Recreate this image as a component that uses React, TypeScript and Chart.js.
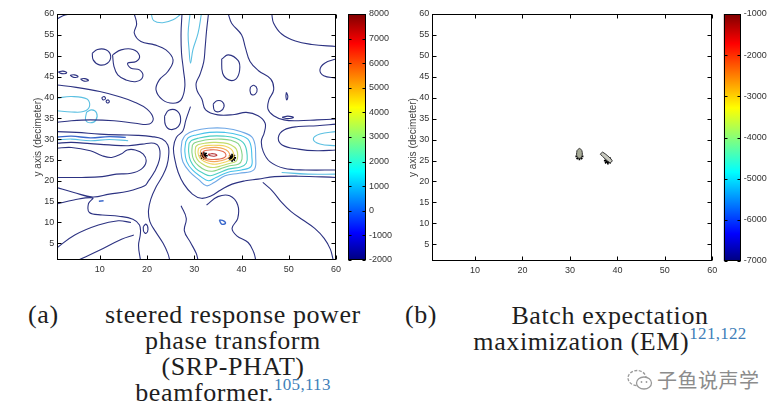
import React, { useEffect, useRef } from 'react';
import { Chart, registerables } from 'chart.js';
Chart.register(...registerables);

type P = [number, number];

// ---------- axes / ticks ----------
const AXIS_MIN = 1;
const AXIS_MAX = 60;
const X_TICKS = [10, 20, 30, 40, 50, 60];
const Y_TICKS = [5, 10, 15, 20, 25, 30, 35, 40, 45, 50, 55, 60];
const Y_TITLE = 'y axis (decimeter)';

const CB_A_RANGE: P = [-2000, 8000];
const CB_A_TICKS = [-2000, -1000, 0, 1000, 2000, 3000, 4000, 5000, 6000, 7000, 8000];
const CB_B_RANGE: P = [-7000, -1000];
const CB_B_TICKS = [-7000, -6000, -5000, -4000, -3000, -2000, -1000];

// ---------- source positions ----------
const SOURCES_A: P[] = [[32, 26], [38, 25.5]];
const SOURCES_B: P[] = [[32, 26], [38, 25]];

// ---------- (a) SRP-PHAT contour lines ----------
const LEVEL_NAVY: P[][] = [
  [[0.8, 58.7], [2.2, 59.6], [3.8, 60]],
  [[8.4, 50.6], [9.5, 51.5], [11.3, 51.4], [12.3, 49.9], [11.6, 48.2], [9.9, 47.8], [8.6, 49.0], [8.4, 50.6]],
  [[12.7, 50.2], [14.5, 51.4], [17.0, 51.5], [18.4, 50.0], [17.7, 48.6], [15.9, 48.2], [16.6, 47.0], [18.4, 46.6], [19.1, 45.0], [17.7, 43.8], [15.5, 44.2], [13.8, 45.4], [13.0, 47.4], [12.7, 50.2]],
  [[1.2, 46.1], [2.2, 46.3], [3.0, 45.9], [2.0, 45.7], [1.2, 46.1]],
  [[3.7, 45.3], [4.6, 45.4], [5.4, 45.0], [4.5, 44.8], [3.7, 45.3]],
  [[5.9, 44.4], [6.8, 44.5], [7.6, 44.1], [6.7, 43.9], [5.9, 44.4]],
  [[0.8, 43.0], [5, 42.4], [10, 41.4], [14, 40.2], [17.5, 38.8], [20, 37.2], [21.3, 35.0], [20.5, 33.6], [17.5, 33.8], [13, 34.4], [8, 34.6], [4, 34.4], [0.8, 34.0]],
  [[10.4, 39.9], [10.9, 40.2], [11.2, 39.7], [10.7, 39.4], [10.4, 39.9]],
  [[11.3, 39.2], [11.8, 39.4], [12.0, 38.9], [11.5, 38.7], [11.3, 39.2]],
  [[17.3, 60], [17.8, 57.6], [17.3, 55.4], [18.7, 53.4], [21.6, 52.6], [24.0, 51.4], [25.5, 49.0], [24.4, 46.2], [22.6, 44.2], [21.9, 41.8], [23.3, 39.4], [25.5, 38.6], [27.2, 39.4], [28.0, 42.6], [27.7, 46.6], [27.3, 50.6], [27.2, 55.4], [27.4, 60]],
  [[23.7, 35.5], [24.6, 36.9], [26.3, 36.8], [27.1, 35.0], [26.6, 33.0], [25.0, 32.3], [23.9, 33.4], [23.7, 35.5]],
  [[33.0, 60], [32.6, 56], [32.3, 52], [32.0, 48.5], [31.2, 45.5], [30.4, 43.4], [30.6, 41.6], [31.6, 39.6], [32.4, 37.0], [35.0, 35.8], [38.5, 35.9], [41.0, 36.4], [43.5, 35.6], [45.0, 33.8], [44.8, 31.5], [44.2, 29.5], [44.6, 27.0], [46.0, 24.6], [49.0, 23.0], [53.5, 22.6], [60, 22.6]],
  [[37.2, 60], [37.9, 57.8], [40.0, 55.0], [40.8, 52.0], [41.8, 48.6], [43.6, 46.4], [46.2, 44.4], [46.8, 41.8], [45.8, 39.4], [45.6, 37.2], [46.8, 35.6], [49, 34.6], [52, 34.4], [56, 34.6], [60, 34.8]],
  [[60, 33.6], [56, 33.2], [52, 33.0], [49, 32.2], [47.8, 30.4], [48.6, 28.6], [52, 27.6], [56, 27.2], [60, 27.4]],
  [[35.8, 49.2], [37.2, 50.2], [39.3, 48.8], [39.6, 46.5], [38.8, 44.4], [37.3, 44.2], [36.0, 45.8], [35.8, 49.2]],
  [[34.0, 38.4], [34.8, 39.2], [35.9, 39.0], [36.3, 37.8], [35.5, 36.7], [34.3, 36.8], [34.0, 38.4]],
  [[41.9, 42.5], [42.6, 42.9], [43.3, 42.0], [42.9, 40.8], [42.1, 40.7], [41.8, 41.6], [41.9, 42.5]],
  [[46.4, 60], [46.8, 57.8], [48.5, 55.2], [51.4, 53.5], [54.9, 52.7], [60, 52.2]],
  [[60, 49.2], [57.6, 48.2], [56.6, 46.6], [57.4, 45.2], [60, 44.6]],
  [[48.6, 35.2], [49.8, 35.5], [51, 35.2], [49.8, 34.9], [48.6, 35.2]],
  [[49.5, 41.2], [49.8, 40.3], [49.6, 39.4], [49.4, 40.3], [49.5, 41.2]],
  [[29.2, 37.8], [28.2, 34.5], [27.6, 32.0], [26.2, 30.4], [25.6, 28.0], [25.9, 25.0], [26.6, 22.0], [27.8, 19.2], [29.6, 16.8], [31.5, 15.8], [33.6, 16.4], [35.6, 17.8], [38.0, 19.2], [40.8, 20.0], [43.5, 20.4], [47, 21.0], [52, 21.1], [60, 20.8]],
  [[0.8, 31.8], [5, 31.6], [10, 31.2], [14, 31.0], [18, 30.9], [21, 30.6], [23.2, 30.0], [24.4, 28.6], [24.6, 26.4], [24.2, 23.6], [23.2, 21.0], [21.9, 18.5], [20.8, 15.6], [20.3, 12.8], [20.6, 10.2], [21.8, 7.8], [23.4, 5.0], [24.4, 2.6], [24.8, 1.0]],
  [[0.8, 29.0], [4, 29.2], [8, 28.9], [12, 28.6], [16, 28.4], [19, 28.8], [21.5, 29.0], [22.6, 27.8], [22.6, 25.0], [21.6, 22.2], [20.2, 19.8], [19.5, 18.8], [16, 17.5], [12, 16.8], [8.5, 16.1], [4.5, 17.2], [0.8, 18.4]],
  [[0.8, 27.8], [4, 28.0], [8, 27.2], [10.5, 26.0], [12.5, 25.6], [14.5, 26.4], [15.8, 27.4], [17.5, 27.4], [19.2, 26.4], [19.8, 24.6], [18.8, 22.8], [16.6, 21.8], [13.5, 21.6], [10.5, 21.0], [6.2, 20.8], [0.8, 20.8]],
  [[0.8, 14.4], [4.5, 15.4], [8.5, 15.9], [7.6, 14.5], [7.8, 12.4], [10.5, 11.8], [14, 11.5], [17.0, 10.8], [18.4, 9.4], [18.6, 7.4], [18.2, 4.5], [18.6, 1.0]],
  [[0.8, 3.8], [4.7, 7.0], [9.7, 9.4], [13.9, 10.4], [16.6, 10.0]],
  [[5.5, 1.0], [9.7, 3.2], [14.6, 6.0], [17.2, 7.0]],
  [[19.2, 9.0], [19.8, 9.6], [20.2, 8.4], [19.8, 7.4], [19.3, 7.8], [19.2, 9.0]],
  [[27.2, 14.0], [28.3, 11.0], [27.9, 8.0], [29.2, 5.2], [30.4, 2.6], [30.8, 1.0]],
  [[32.6, 14.2], [35.0, 16.2], [37.5, 16.4], [39.2, 14.2], [39.2, 11.0], [38.0, 8.6], [39.0, 6.8], [41.4, 5.2], [42.6, 2.8], [43.0, 1.0]],
  [[44.5, 19.6], [46.5, 17.6], [48.5, 14.8], [50.5, 12.6], [53, 10.6], [55.5, 8.6], [57.5, 6.2], [58.8, 3.6], [59.4, 1.0]],
];

const LEVEL_BLUE: P[][] = [
  [[1.0, 30.5], [4, 30.7], [8, 30.3], [12, 30.6], [15.5, 30.4]],
  [[35.3, 10.6], [36.2, 10.4], [36.6, 9.8], [35.8, 9.6], [35.3, 10.6]],
  [[9.8, 15.1], [10.8, 15.2]],
];

const LEVEL_CYAN: P[][] = [
  [[20.9, 60], [21.4, 58.4], [23.3, 57.9], [25.5, 58.6], [27.2, 60]],
  [[29.1, 60], [28.7, 55.4], [28.9, 51.4], [29.2, 48.2], [29.7, 51.4], [30.8, 55.4], [31.5, 60]],
  [[0.8, 39.8], [4, 40.2], [7.3, 39.6], [7.8, 37.8], [6.5, 36.6], [4, 36.5], [0.8, 36.8]],
  [[7.2, 36.5], [8.3, 37.0], [9.3, 36.3], [9.2, 34.6], [8.0, 33.9], [7.0, 34.6], [7.2, 36.5]],
  [[1.0, 29.8], [4, 30.0], [8, 29.6], [12, 29.9], [16, 29.6]],
  [[60, 31.8], [56.6, 31.2], [55.2, 30.0], [56.6, 28.8], [60, 28.4]],
  [[48.5, 22.0], [54, 21.6], [60, 21.6]],
];

// concentric rings around the main peak, outer -> inner
const PEAK_RINGS: P[][] = [
  [[27.4, 29.6], [27.2, 27], [27.6, 24.5], [29, 22.2], [31, 20.2], [32.6, 18.8], [34.2, 19.6], [36.5, 21.2], [39.5, 21.8], [42.6, 22.6], [43.0, 25.5], [42.4, 30.2], [39.8, 31.8], [36.5, 32.6], [33, 32.6], [30, 32.0], [28.2, 31.0], [27.4, 29.6]],
  [[28.2, 29.4], [28.0, 27], [28.4, 24.6], [29.6, 22.6], [31.4, 21.0], [33, 20.0], [34.6, 20.8], [37, 22.0], [40, 22.6], [42.0, 23.4], [42.2, 25.6], [41.6, 29.6], [39.4, 31.0], [36.4, 31.6], [33.2, 31.6], [30.4, 31.0], [28.8, 30.4], [28.2, 29.4]],
  [[28.9, 29.0], [28.8, 27], [29.2, 24.8], [30.3, 23.0], [31.9, 21.8], [33.4, 21.2], [35, 21.8], [37.2, 22.8], [39.8, 23.3], [41.0, 24.2], [41.2, 26.0], [40.6, 28.8], [38.8, 30.2], [36.2, 30.7], [33.3, 30.7], [30.8, 30.2], [29.5, 29.7], [28.9, 29.0]],
  [[29.6, 28.6], [29.5, 26.8], [29.9, 25.0], [30.9, 23.6], [32.3, 22.6], [33.8, 22.3], [35.4, 22.8], [37.5, 23.6], [39.4, 24.0], [40.1, 25.2], [40.0, 27.2], [39.3, 28.9], [37.8, 29.7], [35.6, 30.0], [33.2, 29.9], [31.2, 29.5], [30.1, 29.1], [29.6, 28.6]],
  [[30.3, 28.2], [30.2, 26.7], [30.6, 25.2], [31.5, 24.2], [32.8, 23.4], [34.2, 23.2], [35.8, 23.6], [37.6, 24.2], [38.9, 24.7], [39.2, 26.0], [38.9, 27.6], [37.8, 28.6], [36.2, 29.1], [34.0, 29.2], [32.2, 29.0], [30.9, 28.7], [30.3, 28.2]],
  [[30.9, 27.8], [30.8, 26.6], [31.2, 25.4], [32.1, 24.6], [33.4, 24.1], [34.7, 24.0], [36.2, 24.4], [37.6, 24.9], [38.3, 25.6], [38.3, 26.6], [37.8, 27.6], [36.6, 28.3], [35.0, 28.5], [33.2, 28.5], [31.8, 28.3], [30.9, 27.8]],
  [[31.4, 27.4], [31.3, 26.4], [31.8, 25.4], [32.8, 24.8], [34.2, 24.6], [35.6, 24.8], [36.9, 25.3], [37.5, 26.0], [37.2, 27.0], [36.2, 27.7], [34.6, 28.0], [33.0, 27.9], [31.9, 27.7], [31.4, 27.4]],
  [[31.8, 26.9], [31.9, 26.0], [32.6, 25.3], [33.8, 25.1], [35.2, 25.2], [36.4, 25.6], [36.7, 26.3], [36.1, 27.0], [34.8, 27.4], [33.2, 27.4], [32.2, 27.2], [31.8, 26.9]],
  [[32.9, 26.3], [33.4, 26.0], [34.2, 25.9], [34.8, 26.1], [34.4, 26.4], [33.6, 26.5], [32.9, 26.3]],
];

// ---------- (b) EM contour blobs ----------
const EM_BLOBS: P[][] = [
  [[31.5, 27.4], [32.0, 27.9], [32.5, 27.4], [32.6, 26.4], [32.3, 25.6], [31.7, 25.6], [31.4, 26.4], [31.5, 27.4]],
  [[36.4, 26.5], [36.9, 27.0], [38.9, 25.0], [38.4, 24.5], [36.4, 26.5]],
];

// ---------- captions ----------
const CAPTION_A_TAG = '(a)';
const CAPTION_A_LINES = ['steered response power', 'phase transform', '(SRP-PHAT)', 'beamformer.'];
const CAPTION_A_REF = '105,113';
const CAPTION_B_TAG = '(b)';
const CAPTION_B_LINES = ['Batch expectation', 'maximization (EM)'];
const CAPTION_B_REF = '121,122';
const WATERMARK = '子鱼说声学';

// ---------- styles ----------
const RING_COLORS = ['#6fa8e6', '#47c2ea', '#4ccfc4', '#86d487', '#c3dc6c', '#f1d35e', '#f3a75a', '#e46a4e', '#b8383a'];
const NAVY = '#2c3282';
const BLUE = '#3a68cc';
const CYAN = '#5cc0e2';
const TICK_FONT = { family: "'Liberation Sans', Arial, sans-serif", size: 9 };
const TICK_COLOR = '#333';
const JET: [number, string][] = [[0, '#00007f'], [0.11, '#0000ff'], [0.36, '#00ffff'], [0.62, '#ffff00'], [0.88, '#ff0000'], [1, '#7f0000']];

const toXY = (pts: P[]) => pts.map(([x, y]) => ({ x, y }));

const framePlugin = {
  id: 'frame',
  afterDraw(chart: any, _args: any, opts: any) {
    const { ctx, chartArea: a, scales } = chart;
    ctx.save();
    ctx.strokeStyle = '#000';
    ctx.lineWidth = 1;
    const l = Math.round(a.left) + 0.5, r = Math.round(a.right) - 0.5;
    const t = Math.round(a.top) + 0.5, b = Math.round(a.bottom) - 0.5;
    ctx.strokeRect(l, t, r - l, b - t);
    const len = opts.len || 4;
    ctx.beginPath();
    if (opts.x && scales.x) {
      for (const tk of scales.x.ticks) {
        const px = Math.round(scales.x.getPixelForValue(tk.value)) + 0.5;
        ctx.moveTo(px, b); ctx.lineTo(px, b - len);
        ctx.moveTo(px, t); ctx.lineTo(px, t + len);
      }
    }
    if (opts.y && scales.y) {
      for (const tk of scales.y.ticks) {
        const py = Math.round(scales.y.getPixelForValue(tk.value)) + 0.5;
        ctx.moveTo(l, py); ctx.lineTo(l + len, py);
        ctx.moveTo(r, py); ctx.lineTo(r - len, py);
      }
    }
    ctx.stroke();
    ctx.restore();
  },
};

function lineSet(lines: P[][], color: string, width: number) {
  return lines.map((pts) => ({
    data: toXY(pts),
    showLine: true,
    borderColor: color,
    borderWidth: width,
    pointRadius: 0,
    tension: 0.4,
    fill: false,
  }));
}

function starSet(pts: P[]) {
  return {
    data: toXY(pts),
    showLine: false,
    pointStyle: 'star',
    pointRadius: 4,
    borderColor: '#000',
    backgroundColor: '#000',
    borderWidth: 1.7,
  };
}

function mapOptions(axisWidth: number, padRight: number) {
  return {
    responsive: false,
    animation: false,
    events: [],
    layout: { padding: { left: 28, top: 14, right: padRight, bottom: 0 } },
    plugins: { legend: { display: false }, tooltip: { enabled: false }, frame: { x: true, y: true, len: 4 } },
    scales: {
      x: {
        type: 'linear', min: AXIS_MIN, max: AXIS_MAX,
        afterBuildTicks: (s: any) => { s.ticks = X_TICKS.map((v) => ({ value: v })); },
        afterFit: (s: any) => { s.height = 25; },
        grid: { display: false, drawTicks: false }, border: { display: false },
        ticks: { font: TICK_FONT, color: TICK_COLOR, padding: 4, maxRotation: 0, autoSkip: false, callback: (v: any) => String(v) },
      },
      y: {
        type: 'linear', min: AXIS_MIN, max: AXIS_MAX,
        afterBuildTicks: (s: any) => { s.ticks = Y_TICKS.map((v) => ({ value: v })); },
        afterFit: (s: any) => { s.width = axisWidth; },
        grid: { display: false, drawTicks: false }, border: { display: false },
        title: { display: true, text: Y_TITLE, font: { family: TICK_FONT.family, size: 10 }, color: '#444', padding: { top: 4, bottom: 0 } },
        ticks: { font: TICK_FONT, color: TICK_COLOR, padding: 3, autoSkip: false, callback: (v: any) => String(v) },
      },
    },
  };
}

function colorbar(canvas: HTMLCanvasElement, range: P, ticks: number[], padLeft: number, axisWidth: number, padBottom: number) {
  return new Chart(canvas, {
    type: 'bar',
    data: {
      labels: ['c'],
      datasets: [{
        data: [range] as any,
        backgroundColor: (c: any) => {
          const a = c.chart.chartArea;
          if (!a) return '#0000ff';
          const g = c.chart.ctx.createLinearGradient(0, a.bottom, 0, a.top);
          JET.forEach(([t, col]) => g.addColorStop(t, col));
          return g;
        },
        borderWidth: 0,
        barPercentage: 1,
        categoryPercentage: 1,
      }],
    },
    options: {
      responsive: false,
      animation: false,
      events: [],
      layout: { padding: { left: padLeft, top: 14, right: 0, bottom: padBottom } },
      plugins: { legend: { display: false }, tooltip: { enabled: false }, frame: { x: false, y: true, len: 3 } } as any,
      scales: {
        x: { display: false },
        y: {
          position: 'right', min: range[0], max: range[1],
          afterBuildTicks: (s: any) => { s.ticks = ticks.map((v) => ({ value: v })); },
          afterFit: (s: any) => { s.width = axisWidth; },
          grid: { display: false, drawTicks: false }, border: { display: false },
          ticks: { font: TICK_FONT, color: TICK_COLOR, padding: 3, autoSkip: false, callback: (v: any) => String(v) },
        },
      },
    } as any,
    plugins: [framePlugin],
  });
}

export default function App() {
  const aRef = useRef<HTMLCanvasElement>(null);
  const cbARef = useRef<HTMLCanvasElement>(null);
  const bRef = useRef<HTMLCanvasElement>(null);
  const cbBRef = useRef<HTMLCanvasElement>(null);

  useEffect(() => {
    document.body.style.margin = '0';
    const charts: Chart[] = [];
    const ringSets = PEAK_RINGS.map((pts, i) => lineSet([pts], RING_COLORS[i], 1.1)[0]);
    charts.push(new Chart(aRef.current!, {
      type: 'scatter',
      data: {
        datasets: [
          ...lineSet(LEVEL_NAVY, NAVY, 1.1),
          ...lineSet(LEVEL_BLUE, BLUE, 1.4),
          ...lineSet(LEVEL_CYAN, CYAN, 1.1),
          ...ringSets,
          starSet(SOURCES_A),
        ] as any,
      },
      options: mapOptions(29.3, 9) as any,
      plugins: [framePlugin],
    }));
    charts.push(new Chart(bRef.current!, {
      type: 'scatter',
      data: {
        datasets: [
          ...EM_BLOBS.map((pts, i) => ({
            data: toXY(pts),
            showLine: true,
            borderColor: '#333',
            borderWidth: 1,
            backgroundColor: i === 0 ? '#a7ab97' : '#c9cac0',
            pointRadius: 0,
            tension: 0.3,
            fill: 'shape',
          })),
          starSet(SOURCES_B),
        ] as any,
      },
      options: mapOptions(29.3, 9.7) as any,
      plugins: [framePlugin],
    }));
    charts.push(colorbar(cbARef.current!, CB_A_RANGE, CB_A_TICKS, 8, 34, 10));
    charts.push(colorbar(cbBRef.current!, CB_B_RANGE, CB_B_TICKS, 8.7, 34.3, 10));
    return () => charts.forEach((c) => c.destroy());
  }, []);

  const serif = "'Liberation Serif', 'DejaVu Serif', serif";
  const capStyle: React.CSSProperties = {
    position: 'absolute', fontFamily: serif, fontSize: 26, lineHeight: '26px', color: '#1e1e1e',
    letterSpacing: '0.6px', textAlign: 'center', whiteSpace: 'nowrap',
  };
  const sup: React.CSSProperties = { fontSize: 17, color: '#3f7fb9', position: 'relative', top: -11, letterSpacing: '0.3px' };

  return (
    <div style={{ position: 'fixed', left: 0, top: 0, width: 783, height: 410, background: '#fff', overflow: 'hidden' }}>
      <canvas ref={aRef} width={345} height={285} style={{ position: 'absolute', left: 0, top: 0, width: 345, height: 285 }} />
      <canvas ref={cbARef} width={60} height={270} style={{ position: 'absolute', left: 340, top: 0, width: 60, height: 270 }} />
      <canvas ref={bRef} width={347} height={286} style={{ position: 'absolute', left: 375, top: 0, width: 347, height: 286 }} />
      <canvas ref={cbBRef} width={60} height={271} style={{ position: 'absolute', left: 715, top: 0, width: 60, height: 271 }} />

      <div style={{ ...capStyle, left: 28, top: 302, textAlign: 'left' }}>{CAPTION_A_TAG}</div>
      <div style={{ ...capStyle, left: 92, top: 302, width: 282 }}>
        {CAPTION_A_LINES.map((s, i) => (
          <div key={i}>
            {s}
            {i === CAPTION_A_LINES.length - 1 && <span style={sup}>{CAPTION_A_REF}</span>}
          </div>
        ))}
      </div>

      <div style={{ ...capStyle, left: 405, top: 302, textAlign: 'left' }}>{CAPTION_B_TAG}</div>
      <div style={{ ...capStyle, left: 455, top: 303, width: 310 }}>
        {CAPTION_B_LINES.map((s, i) => (
          <div key={i}>
            {s}
            {i === CAPTION_B_LINES.length - 1 && <span style={sup}>{CAPTION_B_REF}</span>}
          </div>
        ))}
      </div>

      <div style={{ position: 'absolute', left: 626, top: 365, display: 'flex', alignItems: 'center', color: '#8c8c8c' }}>
        <svg width="28" height="24" viewBox="0 0 28 24" style={{ marginRight: 3 }}>
          <ellipse cx="11" cy="10" rx="9" ry="7.5" fill="none" stroke="#9a9a9a" strokeWidth="1.3" strokeDasharray="3 1.5" />
          <ellipse cx="18" cy="15" rx="7.5" ry="6" fill="#fff" stroke="#9a9a9a" strokeWidth="1.3" />
          <circle cx="15.5" cy="14" r="0.9" fill="#9a9a9a" />
          <circle cx="20.5" cy="14" r="0.9" fill="#9a9a9a" />
        </svg>
        <span style={{ fontFamily: "'Noto Sans CJK SC', sans-serif", fontSize: 20, letterSpacing: '0.5px' }}>{WATERMARK}</span>
      </div>
    </div>
  );
}
